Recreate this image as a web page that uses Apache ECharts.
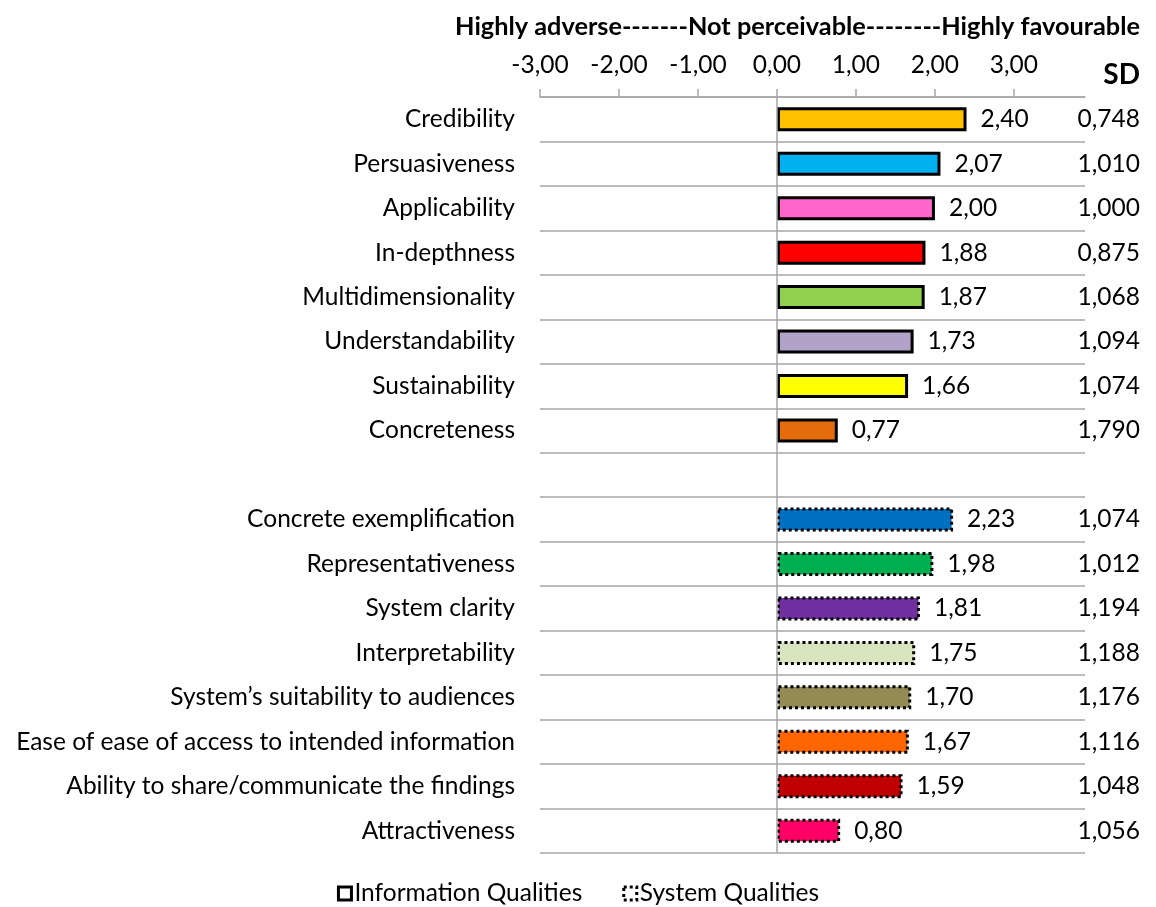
<!DOCTYPE html>
<html>
<head>
<meta charset="utf-8">
<script src="https://cdn.jsdelivr.net/npm/echarts@6/dist/echarts.min.js"></script>
<style>
  html, body { margin: 0; padding: 0; background: #fff; }
  #chart { width: 1156px; height: 907px; }
</style>
</head>
<body>
<div id="chart"></div>
<script>
// Quality dimensions, top to bottom ('' is the spacer row between the two groups)
const categories = [
  'Credibility', 'Persuasiveness', 'Applicability', 'In-depthness',
  'Multidimensionality', 'Understandability', 'Sustainability', 'Concreteness',
  '',
  'Concrete exemplification', 'Representativeness', 'System clarity', 'Interpretability',
  'System\u2019s suitability to audiences', 'Ease of ease of access to intended information',
  'Ability to share/communicate the findings', 'Attractiveness'
];

// Mean scores
const infoMeans = [2.40, 2.07, 2.00, 1.88, 1.87, 1.73, 1.66, 0.77];
const systemMeans = [2.23, 1.98, 1.81, 1.75, 1.70, 1.67, 1.59, 0.80];

// Standard deviations
const infoSD = [0.748, 1.010, 1.000, 0.875, 1.068, 1.094, 1.074, 1.790];
const systemSD = [1.074, 1.012, 1.194, 1.188, 1.176, 1.116, 1.048, 1.056];

// Bar fills
const infoColors = ['#FFC000', '#00B0F0', '#FF66CC', '#FF0000', '#92D050', '#B3A2C7', '#FFFF00', '#E46C0A'];
const systemColors = ['#0070C0', '#00B050', '#7030A0', '#D7E4BD', '#948A54', '#FF6600', '#C00000', '#FF0066'];

// Tick labels on the score axis
const tickValues = [-3, -2, -1, 0, 1, 2, 3];

const FONT = 'Lato';
const FS = 24.5;
const fmt = (v, d) => v.toFixed(d).replace('.', ',');

const nInfo = infoMeans.length;
const infoData = categories.map((c, i) => i < nInfo
  ? { value: infoMeans[i], itemStyle: { color: infoColors[i] } } : null);
const systemData = categories.map((c, i) => i > nInfo
  ? { value: systemMeans[i - nInfo - 1], itemStyle: { color: systemColors[i - nInfo - 1] } } : null);
const sdLabels = categories.map((c, i) => i < nInfo ? fmt(infoSD[i], 3)
  : (i > nInfo ? fmt(systemSD[i - nInfo - 1], 3) : ''));

const chart = echarts.init(document.getElementById('chart'), null, { renderer: 'canvas' });

const valueLabel = {
  show: true, position: 'right', distance: 14,
  fontFamily: FONT, fontSize: FS, color: '#000',
  formatter: p => fmt(p.value, 2)
};

chart.setOption({
  animation: false,
  title: [
    {
      text: 'Highly adverse-------Not perceivable--------Highly favourable',
      right: 16, top: 14, padding: 0,
      textStyle: { fontFamily: FONT, fontSize: 25.3, fontWeight: 'bold', color: '#000' }
    },
    {
      text: 'SD', right: 16, top: 61, padding: 0,
      textStyle: { fontFamily: FONT, fontSize: 28, fontWeight: 'bold', color: '#000' }
    }
  ],
  grid: { left: 540, right: 71, top: 97, bottom: 54 },
  legend: {
    top: 876, left: 'center', itemGap: 40, itemWidth: 13, itemHeight: 13,
    textStyle: { fontFamily: FONT, fontSize: FS, color: '#000', padding: [0, 0, 0, -2] },
    data: [
      { name: 'Information Qualities', icon: 'rect',
        itemStyle: { color: '#fff', borderColor: '#000', borderWidth: 3, borderType: 'solid' } },
      { name: 'System Qualities', icon: 'rect',
        itemStyle: { color: '#fff', borderColor: '#000', borderWidth: 3, borderType: [3, 3] } }
    ]
  },
  xAxis: {
    type: 'value', position: 'top', min: -3, max: 3.9, interval: 1,
    axisLine: { show: true, lineStyle: { color: '#A6A6A6', width: 1.5 } },
    axisTick: { show: true, length: 8, customValues: tickValues, lineStyle: { color: '#A6A6A6', width: 1.5 } },
    axisLabel: {
      customValues: tickValues, margin: 19,
      fontFamily: FONT, fontSize: FS, color: '#000',
      formatter: v => fmt(v, 2)
    },
    splitLine: { show: false }
  },
  yAxis: [
    {
      type: 'category', inverse: true, data: categories,
      axisLine: { show: false }, axisTick: { show: false },
      axisLabel: { margin: 25, fontFamily: FONT, fontSize: FS, color: '#000' },
      splitLine: { show: true, lineStyle: { color: '#A6A6A6', width: 1.5 } }
    },
    {
      type: 'category', inverse: true, position: 'right', data: sdLabels,
      axisLine: { show: false }, axisTick: { show: false },
      axisLabel: { margin: 55, align: 'right', fontFamily: FONT, fontSize: FS, color: '#000' },
      splitLine: { show: false }
    }
  ],
  series: [
    {
      name: 'Information Qualities', type: 'bar', stack: 'q', barWidth: 24,
      data: infoData,
      itemStyle: { color: '#fff', borderColor: '#000', borderWidth: 3, borderType: 'solid' },
      label: valueLabel,
      markLine: {
        silent: true, symbol: 'none', label: { show: false },
        lineStyle: { color: '#A6A6A6', width: 1.5, type: 'solid' },
        data: [{ xAxis: 0 }]
      },
      z: 3
    },
    {
      name: 'System Qualities', type: 'bar', stack: 'q', barWidth: 24,
      data: systemData,
      itemStyle: { color: '#fff', borderColor: '#000', borderWidth: 3, borderType: [3, 3] },
      label: valueLabel,
      z: 3
    }
  ]
});
</script>
</body>
</html>
